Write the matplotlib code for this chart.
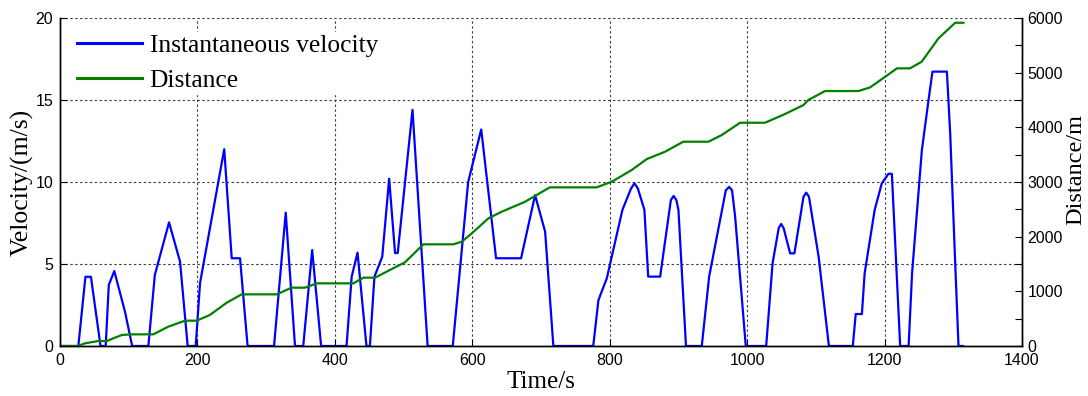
import matplotlib
matplotlib.use("Agg")
import matplotlib.pyplot as plt
from matplotlib.ticker import MultipleLocator

# ---- data ----
vel_time = [0, 26.7, 37, 45, 59, 66.5, 71, 79, 94.6, 105, 128.6, 138, 158.7, 174.7, 185.8,
            197.5, 203.8, 239, 249.9, 262, 273, 311.5, 328.5, 342, 354, 367, 380, 417,
            424.5, 433, 446, 451, 457.6, 469, 479, 487.6, 491.5, 513, 535, 571.6, 594,
            613, 634.6, 671, 691.4, 706, 718, 776, 783.6, 795.8, 818.5, 831, 836, 841,
            850.5, 856, 873.4, 889, 893, 897, 900, 911, 934, 944.7, 969, 973.8, 978,
            982.5, 998, 1027.7, 1037, 1046, 1049.5, 1053, 1062.6, 1068.8, 1082, 1086,
            1090, 1104, 1119, 1153.8, 1158, 1167, 1171, 1185.6, 1196, 1205.7, 1210.6,
            1222.7, 1235, 1240, 1254.3, 1264, 1269.7, 1290.7, 1295.5, 1302.8, 1307.6, 1314]
velocity = [0, 0, 4.22, 4.22, 0, 0, 3.72, 4.57, 2.09, 0, 0, 4.33, 7.54, 5.14, 0,
            0, 3.84, 12.0, 5.35, 5.35, 0, 0, 8.13, 0, 0, 5.85, 0, 0,
            4.23, 5.69, 0, 0, 4.23, 5.45, 10.2, 5.67, 5.67, 14.4, 0, 0, 10.0,
            13.2, 5.35, 5.35, 9.2, 6.97, 0, 0, 2.8, 4.13, 8.3, 9.6, 9.92, 9.6,
            8.3, 4.23, 4.23, 8.9, 9.15, 8.9, 8.3, 0, 0, 4.23, 9.5, 9.7, 9.5,
            7.9, 0, 0, 5.04, 7.2, 7.44, 7.2, 5.65, 5.65, 9.1, 9.35,
            9.1, 5.45, 0, 0, 1.95, 1.95, 4.43, 8.3, 9.92, 10.5, 10.5,
            0, 0, 4.43, 11.95, 15.0, 16.73, 16.73, 12.97, 5.04, 0, 0]

dist_time = [0, 26, 36.4, 55.8, 68, 89.8, 104, 135.8, 157.6, 182, 199, 218, 242.6, 264.4,
             315.4, 337, 356.6, 373.6, 427, 441.5, 458.5, 487.6, 502, 528.8, 572.5, 584.7,
             599.3, 623.5, 643, 677, 706, 713, 781, 803, 832, 854, 880.6, 907, 943.7, 963,
             989.8, 1026, 1055, 1082, 1089, 1113.5, 1162, 1179, 1201, 1218, 1237, 1254,
             1278.5, 1302.8, 1314.8]
distance = [0, 0, 49, 91, 91, 201, 213, 213, 354, 463, 463, 567, 792, 945,
            945, 1067, 1067, 1146, 1146, 1250, 1250, 1439, 1530, 1860, 1860, 1908,
            2061, 2336, 2457, 2640, 2853, 2902, 2902, 3005, 3219, 3420, 3554, 3737, 3737, 3859,
            4084, 4084, 4243, 4408, 4500, 4664, 4664, 4731, 4926, 5079, 5079, 5200,
            5628, 5913, 5913]

x_ticks = [0, 200, 400, 600, 800, 1000, 1200, 1400]
v_ticks = [0, 5, 10, 15, 20]
d_ticks = [0, 1000, 2000, 3000, 4000, 5000, 6000]

serif = ['Liberation Serif', 'DejaVu Serif']
sans = ['Liberation Sans', 'DejaVu Sans']

fig = plt.figure(figsize=(10.88, 3.96), dpi=100)
ax = fig.add_axes([60/1088, 50/396, 962/1088, 328/396])
ax2 = ax.twinx()

l1, = ax.plot(vel_time, velocity, color='#0000ff', lw=1.6)
l2, = ax2.plot(dist_time, distance, color='#008000', lw=1.6)

ax.set_xlim(0, 1400)
ax.set_ylim(0, 20)
ax2.set_ylim(0, 6000)
ax.set_xticks(x_ticks)
ax.set_yticks(v_ticks)
ax2.set_yticks(d_ticks)
ax2.yaxis.set_minor_locator(MultipleLocator(500))

grid_kw = dict(color='0.25', linestyle=(0, (2.2, 2.2)), linewidth=0.8)
ax.grid(True, **grid_kw)

for a in (ax, ax2):
    a.spines['top'].set_visible(False)
    for s in a.spines.values():
        s.set_linewidth(1.0)

ax.tick_params(axis='both', direction='in', length=5, width=0.8, labelsize=11.5,
               top=False, right=False)
ax.tick_params(axis='x', pad=5)
ax.tick_params(axis='y', pad=5)
ax2.tick_params(axis='y', which='both', direction='in', length=5, width=0.8,
                labelsize=11.5, pad=4)
for lab in ax.get_xticklabels() + ax.get_yticklabels() + ax2.get_yticklabels():
    lab.set_family(sans)

ax.set_xlabel('Time/s', family=serif, fontsize=18)
ax.xaxis.label.set_verticalalignment('center')
ax.xaxis.set_label_coords(0.5, -0.11)
ax.set_ylabel('Velocity/(m/s)', family=serif, fontsize=18.5)
ax.yaxis.label.set_verticalalignment('center')
ax.yaxis.set_label_coords(-0.039, 0.5)
ax2.set_ylabel('Distance/m', family=serif, fontsize=17.5)
ax2.yaxis.label.set_verticalalignment('center')
ax2.yaxis.set_label_coords(1.056, 0.537)

leg = ax2.legend([l1, l2], ['Instantaneous velocity', 'Distance'], loc='upper left',
                 bbox_to_anchor=(0.0149, 0.9574), prop={'family': serif, 'size': 18.4},
                 frameon=True, fancybox=False, edgecolor='white', framealpha=1,
                 handlelength=2.54, handletextpad=0.31, labelspacing=0.45, borderpad=0.1,
                 borderaxespad=0)
for h in leg.legend_handles:
    h.set_linewidth(2.2)

fig.savefig('out.png', dpi=100)
